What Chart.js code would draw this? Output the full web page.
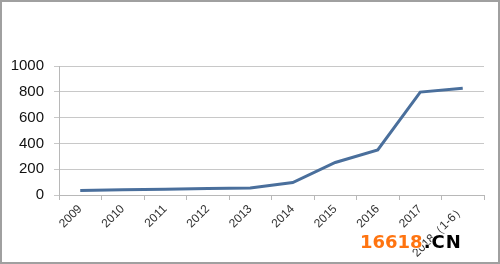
<!DOCTYPE html>
<html>
<head>
<meta charset="utf-8">
<script src="https://cdn.jsdelivr.net/npm/chart.js@4"></script>
<style>
    body { margin: 0; background: #fff; }
    .wrap { position: relative; width: 500px; height: 264px; }
    .mark {
        position: absolute; left: 360px; top: 231px;
        font: bold 18px "DejaVu Sans", Verdana, sans-serif;
        line-height: 21px;
        text-shadow: 1px 0 #fff, -1px 0 #fff, 0 1px #fff, 0 -1px #fff;
    }
    .mark .num { color: #ff7410; }
    .mark .cn { color: #000; margin-left: 1px; letter-spacing: 1px; }
</style>
</head>
<body>
<div class="wrap">
    <canvas id="lineChart" width="500" height="264"></canvas>
    <div class="mark"><span class="num">16618</span><span class="cn">.CN</span></div>
</div>
<script>
// Dữ liệu
const years = ['2009', '2010', '2011', '2012', '2013', '2014', '2015', '2016', '2017', '2018（1-6）']
const values = [35, 40, 45, 50, 55, 97, 252, 350, 798, 828]
const yTicks = [0, 200, 400, 600, 800, 1000]

// Khung xám quanh ảnh
const framePlugin = {
    id: 'frame',
    beforeDraw(chart) {
        const ctx = chart.ctx
        ctx.save()
        ctx.fillStyle = '#fff'
        ctx.fillRect(0, 0, chart.width, chart.height)
        ctx.restore()
    },
    afterDraw(chart) {
        const ctx = chart.ctx
        ctx.save()
        ctx.strokeStyle = '#a0a0a0'
        ctx.lineWidth = 2
        ctx.strokeRect(1, 1, chart.width - 2, chart.height - 2)
        ctx.restore()
    }
}

new Chart(document.getElementById('lineChart'), {
    type: 'line',
    data: {
        labels: years,
        datasets: [{
            data: values,
            borderColor: '#4a6f9c',
            borderWidth: 3,
            pointRadius: 0,
            tension: 0,
            fill: false
        }]
    },
    options: {
        responsive: false,
        animation: false,
        layout: { padding: { left: 0, top: 66, right: 16, bottom: 0 } },
        plugins: { legend: { display: false }, tooltip: { enabled: false } },
        scales: {
            x: {
                offset: true,
                afterFit: scale => { scale.height = 69 },
                grid: { offset: true, drawOnChartArea: false, tickLength: 5, color: '#b8b8b8' },
                border: { color: '#b8b8b8' },
                ticks: {
                    minRotation: 45,
                    maxRotation: 45,
                    padding: 2,
                    color: '#333',
                    font: { family: '"Liberation Sans", Arial, sans-serif', size: 12 }
                }
            },
            y: {
                min: 0,
                max: 1000,
                afterFit: scale => { scale.width = 59 },
                afterBuildTicks: scale => { scale.ticks = yTicks.map(v => ({ value: v })) },
                grid: { color: '#c8c8c8', tickLength: 5 },
                border: { color: '#b8b8b8' },
                ticks: {
                    padding: 10,
                    color: '#111',
                    callback: v => String(v),
                    font: { family: '"Liberation Sans", Arial, sans-serif', size: 15 }
                }
            }
        }
    },
    plugins: [framePlugin]
})
</script>
</body>
</html>
